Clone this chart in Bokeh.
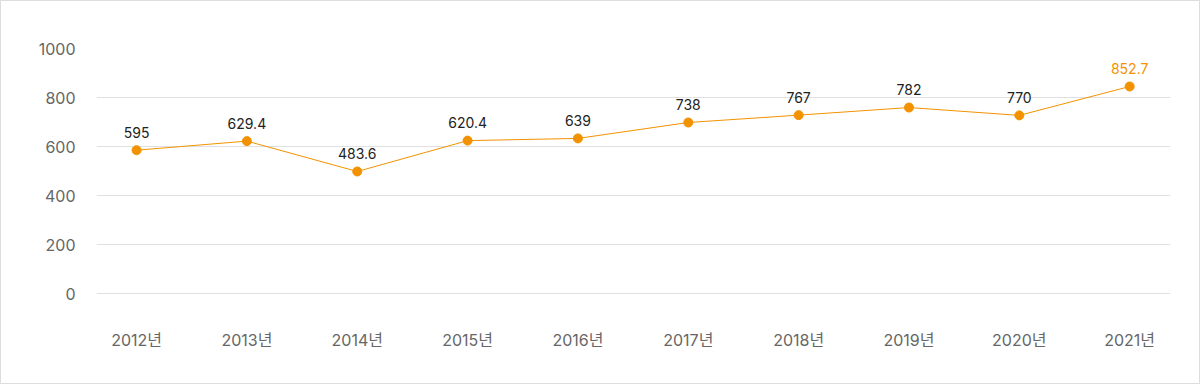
from bokeh.plotting import figure
from bokeh.models import ColumnDataSource, Range1d, FixedTicker, LabelSet
from bokeh.embed import file_html
from bokeh.resources import INLINE
from bokeh.core.properties import value

years = ["2012년", "2013년", "2014년", "2015년", "2016년", "2017년", "2018년", "2019년", "2020년", "2021년"]
# plotted positions
values = [585, 622, 498, 624, 633, 698, 728, 759, 727, 845]
# data label texts shown above the points
labels = ["595", "629.4", "483.6", "620.4", "639", "738", "767", "782", "770", "852.7"]
label_colors = ["#222222"] * 9 + ["#f39200"]
y_ticks = [0, 200, 400, 600, 800, 1000]

FONT = "Inter, 'Noto Sans CJK KR', sans-serif"
ORANGE = "#f39200"

xs = list(range(len(years)))
src = ColumnDataSource(dict(x=xs, y=values, label=labels, color=label_colors))

p = figure(width=1200, height=384, output_backend="svg", toolbar_location=None,
           x_range=Range1d(-0.363, len(years) - 1 + 0.37), y_range=Range1d(-4.08, 1000),
           min_border_left=96, min_border_right=30, min_border_top=48, min_border_bottom=90)
p.styles = {"position": "absolute", "left": "0px", "top": "0px",
            "background-color": "white", "box-shadow": "inset 0 0 0 1px #dddddd"}
p.outline_line_color = None
p.background_fill_color = "white"
p.border_fill_color = None

p.line("x", "y", source=src, line_color=ORANGE, line_width=1)
p.scatter("x", "y", source=src, size=9, fill_color=ORANGE, line_color=ORANGE)

lbl = LabelSet(x="x", y="y", text="label", source=src, y_offset=18, text_align="center",
               text_baseline="middle", text_color="color", text_font=value(FONT),
               text_font_size="14px")
p.add_layout(lbl)

p.xaxis.ticker = FixedTicker(ticks=xs)
p.xaxis.major_label_overrides = {i: y for i, y in enumerate(years)}
p.yaxis.ticker = FixedTicker(ticks=y_ticks)

for ax in (p.xaxis[0], p.yaxis[0]):
    ax.axis_line_color = None
    ax.major_tick_line_color = None
    ax.minor_tick_line_color = None
    ax.major_label_text_font = FONT
    ax.major_label_text_font_size = "16px"
    ax.major_label_text_color = "#666666"

p.xaxis.major_label_standoff = 29
p.yaxis.major_label_standoff = 15

p.xgrid.grid_line_color = None
p.ygrid.ticker = FixedTicker(ticks=y_ticks)
p.ygrid.grid_line_color = "#e0e0e0"
p.ygrid.grid_line_width = 1

open("out.html", "w").write(file_html(p, INLINE))
